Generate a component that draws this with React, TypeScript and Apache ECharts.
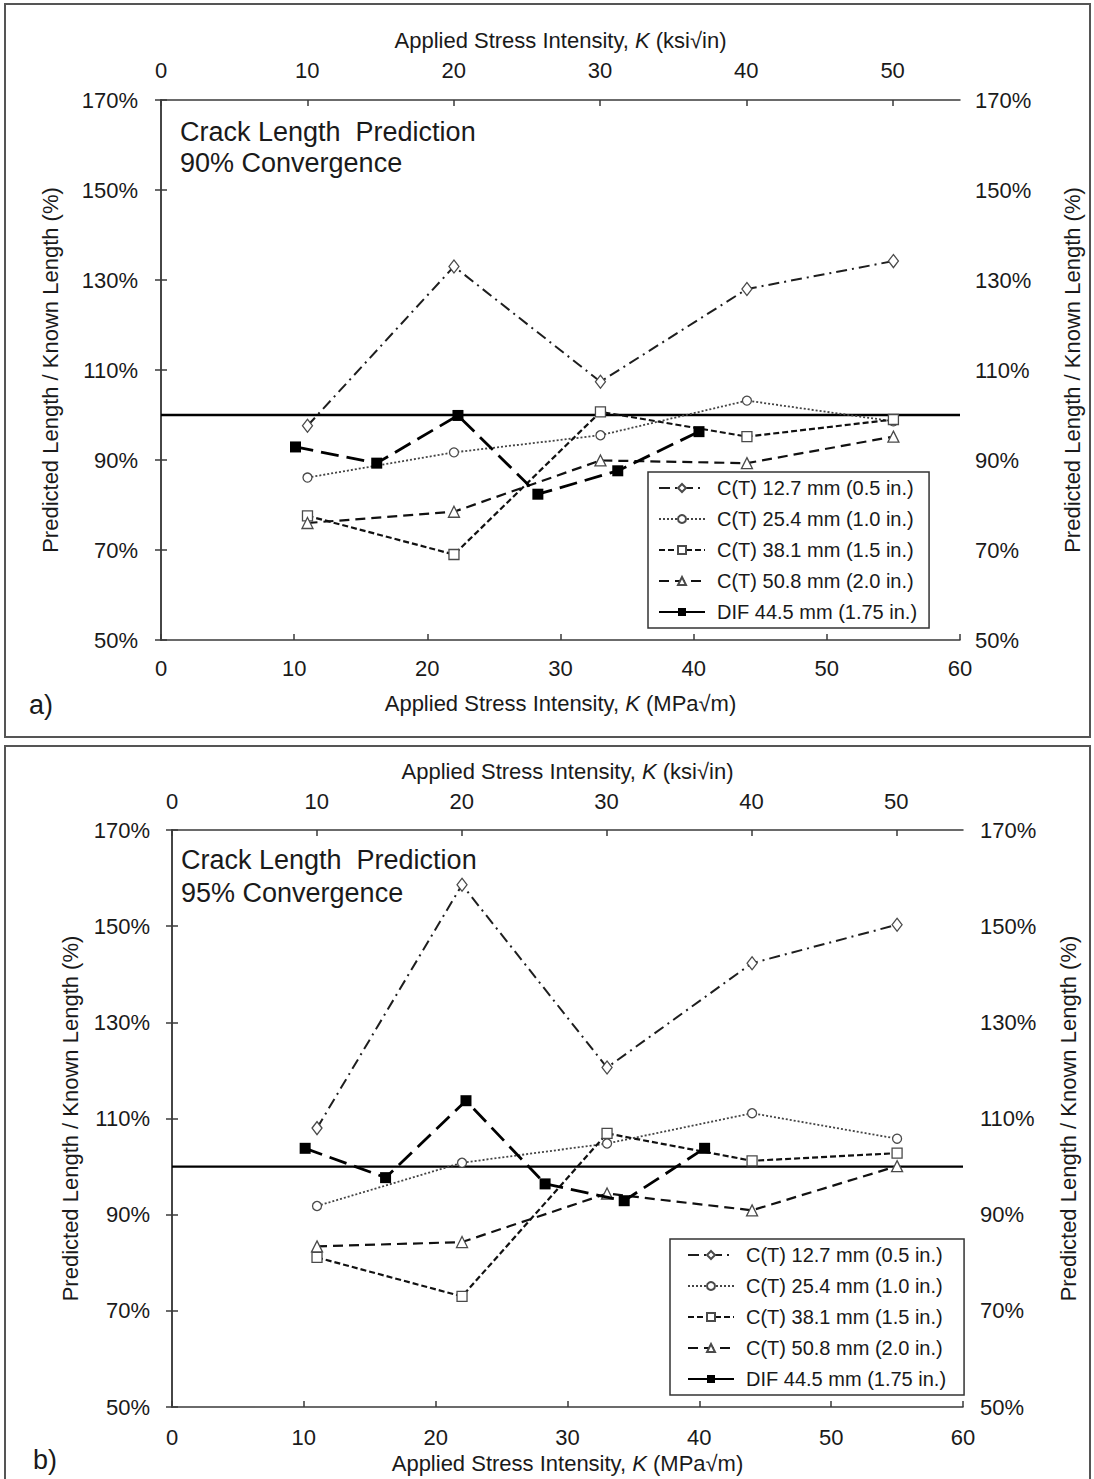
import React, { useEffect, useRef } from "react";
import * as echarts from "echarts";

const FONT = '"Liberation Sans", Arial, Helvetica, sans-serif';
const MPA_PER_KSI = 1.0988;

// ---- tick labels ----
const mpaTicks = [0, 10, 20, 30, 40, 50, 60];
const ksiTicks = [0, 10, 20, 30, 40, 50];
const pctTicks = [50, 70, 90, 110, 130, 150, 170];

// ---- series names ----
const seriesNames = [
  "C(T) 12.7 mm (0.5 in.)",
  "C(T) 25.4 mm (1.0 in.)",
  "C(T) 38.1 mm (1.5 in.)",
  "C(T) 50.8 mm (2.0 in.)",
  "DIF 44.5 mm (1.75 in.)",
];

// ---- x values (MPa√m) ----
const xCT = [11, 22, 33, 44, 55];
const xDIF = [10.1, 16.2, 22.3, 28.3, 34.3, 40.4];
const refX = [0, 60];
const refY = [100, 100];

// ---- panel a) 90% convergence (%) ----
const ct127_90 = [97.6, 133.0, 107.4, 128.0, 134.2];
const ct254_90 = [86.1, 91.7, 95.5, 103.2, 98.6];
const ct381_90 = [77.6, 69.0, 100.7, 95.2, 99.0];
const ct508_90 = [76.0, 78.5, 89.9, 89.3, 95.2];
const dif_90 = [92.9, 89.3, 99.9, 82.4, 87.6, 96.3];

// ---- panel b) 95% convergence (%) ----
const ct127_95 = [108.0, 158.6, 120.6, 142.3, 150.3];
const ct254_95 = [91.8, 100.8, 104.8, 111.1, 105.8];
const ct381_95 = [81.1, 73.0, 106.9, 101.2, 102.8];
const ct508_95 = [83.4, 84.3, 94.4, 90.9, 100.1];
const dif_95 = [103.8, 97.7, 113.7, 96.4, 92.9, 103.8];

const pair = (xs: number[], ys: number[]) => xs.map((x, i) => [x, ys[i]]);

type Panel = {
  letter: string;
  note2: string;
  height: number;
  left: number;
  right: number;
  top: number;
  bottom: number;
  frame: { x: number; y: number; w: number; h: number };
  legendLeft: number;
  legendTop: number;
  legendPadding: number[];
  noteX: number;
  noteY1: number;
  noteY2: number;
  letterX: number;
  letterY: number;
  topLabelMargin: number;
  topNameGap: number;
  bottomLabelMargin: number;
  bottomNameGap: number;
  leftLabelMargin: number;
  leftNameGap: number;
  rightLabelMargin: number;
  rightNameGap: number;
  data: number[][];
};

const panelA: Panel = {
  letter: "a)",
  note2: "90% Convergence",
  height: 742,
  left: 161,
  right: 960,
  top: 100,
  bottom: 640,
  frame: { x: 5, y: 4, w: 1085, h: 733 },
  legendLeft: 648,
  legendTop: 472,
  legendPadding: [6, 12, 6, 10],
  noteX: 180,
  noteY1: 132,
  noteY2: 163,
  letterX: 29,
  letterY: 705,
  topLabelMargin: 19,
  topNameGap: 49,
  bottomLabelMargin: 17,
  bottomNameGap: 52,
  leftLabelMargin: 23,
  leftNameGap: 100,
  rightLabelMargin: 15,
  rightNameGap: 101,
  data: [ct127_90, ct254_90, ct381_90, ct508_90, dif_90],
};

const panelB: Panel = {
  letter: "b)",
  note2: "95% Convergence",
  height: 737,
  left: 172,
  right: 963,
  top: 88,
  bottom: 668,
  frame: { x: 5, y: 4, w: 1085, h: 734 },
  legendLeft: 670,
  legendTop: 497,
  legendPadding: [6, 18, 6, 17],
  noteX: 181,
  noteY1: 118,
  noteY2: 151,
  letterX: 33,
  letterY: 718,
  topLabelMargin: 18,
  topNameGap: 48,
  bottomLabelMargin: 19,
  bottomNameGap: 45,
  leftLabelMargin: 22,
  leftNameGap: 91,
  rightLabelMargin: 17,
  rightNameGap: 94,
  data: [ct127_95, ct254_95, ct381_95, ct508_95, dif_95],
};

const AXIS_COLOR = "#3a3a3a";
const TEXT_COLOR = "#1a1a1a";

function buildOption(p: Panel) {
  const axisLine = { show: true, lineStyle: { color: AXIS_COLOR, width: 1.5 } };
  const tick = (vals: number[]) => ({
    show: true,
    inside: true,
    length: 6,
    customValues: vals,
    lineStyle: { color: AXIS_COLOR, width: 1.5 },
  });
  const label = (margin: number, vals: number[], fmt?: (v: number) => string) => ({
    show: true,
    fontSize: 22,
    color: TEXT_COLOR,
    fontFamily: FONT,
    margin,
    customValues: vals,
    formatter: fmt || ((v: number) => String(Math.round(v))),
  });
  const rich = {
    t: { fontSize: 22, color: TEXT_COLOR, fontFamily: FONT },
    i: { fontSize: 22, color: TEXT_COLOR, fontFamily: FONT, fontStyle: "italic" },
  };
  const nameStyle = { fontSize: 22, color: TEXT_COLOR, fontFamily: FONT, rich };
  const yName = "Predicted Length / Known Length (%)";
  const pctFmt = (v: number) => Math.round(v) + "%";

  const marker = { color: "#ffffff", borderColor: "#4a4a4a", borderWidth: 1.3 };

  const styles = [
    { symbol: "diamond", size: [10, 13], dash: [11, 5, 2, 5], width: 2, color: "#1e1e1e", item: marker },
    { symbol: "circle", size: 9, dash: [2, 2], width: 1.8, color: "#444444", item: marker },
    { symbol: "rect", size: 10, dash: [6, 3], width: 2.2, color: "#111111", item: marker },
    { symbol: "triangle", size: 11, dash: [10, 6], width: 2.2, color: "#111111", item: marker },
    { symbol: "rect", size: 11, dash: [18, 8], width: 2.8, color: "#000000", item: { color: "#000000", borderColor: "#000000", borderWidth: 0 } },
  ];

  const series: any[] = [
    {
      name: "ref100",
      type: "line",
      data: pair(refX, refY),
      symbol: "none",
      lineStyle: { color: "#000000", width: 2.4, type: "solid" },
      silent: true,
      z: 1,
    },
  ];
  seriesNames.forEach((name, i) => {
    const s = styles[i];
    series.push({
      name,
      type: "line",
      data: pair(i === 4 ? xDIF : xCT, p.data[i]),
      symbol: s.symbol,
      symbolSize: s.size,
      showSymbol: true,
      lineStyle: { color: s.color, width: s.width, type: s.dash },
      itemStyle: s.item,
      emphasis: { disabled: true },
      z: 3 + i,
    });
  });

  return {
    animation: false,
    backgroundColor: "#ffffff",
    textStyle: { fontFamily: FONT },
    grid: {
      left: p.left,
      top: p.top,
      width: p.right - p.left,
      height: p.bottom - p.top,
      containLabel: false,
    },
    xAxis: [
      {
        type: "value",
        position: "bottom",
        min: 0,
        max: 60,
        interval: 10,
        axisLine,
        axisTick: tick(mpaTicks),
        axisLabel: label(p.bottomLabelMargin, mpaTicks),
        splitLine: { show: false },
        name: "{t|Applied Stress Intensity, }{i|K}{t| (MPa√m)}",
        nameLocation: "middle",
        nameGap: p.bottomNameGap,
        nameMoveOverlap: false,
        nameTextStyle: nameStyle,
      },
      {
        type: "value",
        position: "top",
        min: 0,
        max: 60 / MPA_PER_KSI,
        axisLine,
        axisTick: tick(ksiTicks),
        axisLabel: label(p.topLabelMargin, ksiTicks),
        splitLine: { show: false },
        name: "{t|Applied Stress Intensity, }{i|K}{t| (ksi√in)}",
        nameLocation: "middle",
        nameGap: p.topNameGap,
        nameMoveOverlap: false,
        nameTextStyle: nameStyle,
      },
    ],
    yAxis: [
      {
        type: "value",
        position: "left",
        min: 50,
        max: 170,
        axisLine,
        axisTick: tick(pctTicks),
        axisLabel: label(p.leftLabelMargin, pctTicks, pctFmt),
        splitLine: { show: false },
        name: yName,
        nameLocation: "middle",
        nameRotate: 90,
        nameGap: p.leftNameGap,
        nameMoveOverlap: false,
        nameTextStyle: nameStyle,
      },
      {
        type: "value",
        position: "right",
        min: 50,
        max: 170,
        axisLine,
        axisTick: tick(pctTicks),
        axisLabel: label(p.rightLabelMargin, pctTicks, pctFmt),
        splitLine: { show: false },
        name: yName,
        nameLocation: "middle",
        nameRotate: 90,
        nameGap: p.rightNameGap,
        nameMoveOverlap: false,
        nameTextStyle: nameStyle,
      },
    ],
    legend: {
      show: true,
      orient: "vertical",
      left: p.legendLeft,
      top: p.legendTop,
      itemWidth: 46,
      itemHeight: 10,
      itemGap: 11,
      padding: p.legendPadding,
      borderColor: "#333333",
      borderWidth: 1.5,
      borderRadius: 0,
      backgroundColor: "#ffffff",
      selectedMode: false,
      z: 10,
      textStyle: { fontSize: 20, color: TEXT_COLOR, fontFamily: FONT, padding: [0, 0, 0, 7] },
      data: seriesNames.map((n, i) =>
        i === 4 ? { name: n, lineStyle: { type: "solid" } } : { name: n }
      ),
    },
    graphic: [
      {
        type: "rect",
        silent: true,
        shape: { x: p.frame.x, y: p.frame.y, width: p.frame.w, height: p.frame.h },
        style: { fill: "none", stroke: "#555555", lineWidth: 2 },
        z: 0,
      },
      {
        type: "text",
        x: p.noteX,
        y: p.noteY1,
        style: { text: "Crack Length  Prediction", fontSize: 27, fontFamily: FONT, fill: TEXT_COLOR, verticalAlign: "middle" },
        z: 20,
      },
      {
        type: "text",
        x: p.noteX,
        y: p.noteY2,
        style: { text: p.note2, fontSize: 27, fontFamily: FONT, fill: TEXT_COLOR, verticalAlign: "middle" },
        z: 20,
      },
      {
        type: "text",
        x: p.letterX,
        y: p.letterY,
        style: { text: p.letter, fontSize: 27, fontFamily: FONT, fill: TEXT_COLOR, verticalAlign: "middle" },
        z: 20,
      },
    ],
    series,
  };
}

function ChartPanel({ panel, top }: { panel: Panel; top: number }) {
  const ref = useRef<HTMLDivElement>(null);
  useEffect(() => {
    if (!ref.current) return;
    const chart = echarts.init(ref.current, undefined, { renderer: "svg" });
    chart.setOption(buildOption(panel) as any);
    return () => chart.dispose();
  }, [panel]);
  return (
    <div
      ref={ref}
      style={{ position: "absolute", left: 0, top, width: 1094, height: panel.height }}
    />
  );
}

export default function App() {
  return (
    <div
      style={{
        position: "absolute",
        left: 0,
        top: 0,
        width: 1094,
        height: 1479,
        background: "#ffffff",
        overflow: "hidden",
      }}
    >
      <ChartPanel panel={panelA} top={0} />
      <ChartPanel panel={panelB} top={742} />
    </div>
  );
}
